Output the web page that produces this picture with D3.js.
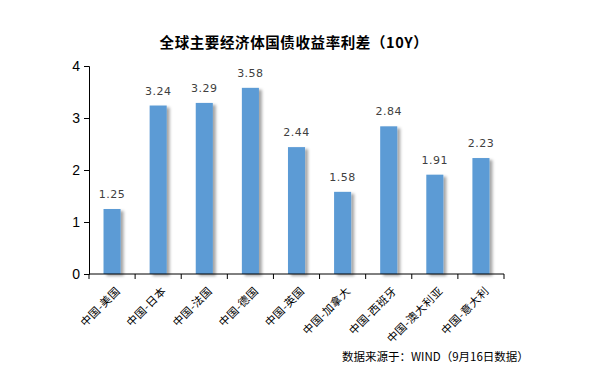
<!DOCTYPE html>
<html>
<head>
<meta charset="utf-8">
<script src="https://cdn.jsdelivr.net/npm/d3@7"></script>
<style>
  body { margin: 0; background: #fff; }
</style>
</head>
<body>
<div id="chart"></div>
<script>
// data
var categories = ["中国-美国", "中国-日本", "中国-法国", "中国-德国", "中国-英国", "中国-加拿大", "中国-西班牙", "中国-澳大利亚", "中国-意大利"];
var spreads = [1.25, 3.24, 3.29, 3.58, 2.44, 1.58, 2.84, 1.91, 2.23];
var yTicks = [0, 1, 2, 3, 4];

var W = 604, H = 382;
var margin = {top: 66, right: 100, bottom: 108, left: 89},
    width = W - margin.left - margin.right,
    height = H - margin.top - margin.bottom;

var root = d3.select("#chart").append("svg")
  .attr("width", W)
  .attr("height", H);

// shadow for bars
var defs = root.append("defs");
var f = defs.append("filter").attr("id", "shadow")
  .attr("x", "-20%").attr("y", "-10%").attr("width", "160%").attr("height", "130%");
f.append("feDropShadow")
  .attr("dx", 3).attr("dy", 2).attr("stdDeviation", 1.5)
  .attr("flood-color", "#000").attr("flood-opacity", 0.35);

// title
root.append("text")
  .attr("x", 294).attr("y", 48)
  .attr("text-anchor", "middle")
  .style("font-family", "'Noto Sans CJK SC', sans-serif")
  .style("font-weight", "bold")
  .style("font-size", "14.5px")
  .style("letter-spacing", "0.6px")
  .text("全球主要经济体国债收益率利差（10Y）");

var svg = root.append("g")
  .attr("transform", "translate(" + margin.left + "," + margin.top + ")");

var x = d3.scaleBand()
  .domain(categories)
  .range([0, width])
  .paddingInner(0.63)
  .paddingOuter(0.315);

var y = d3.scaleLinear()
  .domain([0, 4])
  .range([height, 0]);

// bars
svg.selectAll("rect.bar")
  .data(spreads)
  .enter()
  .append("rect")
  .attr("class", "bar")
  .attr("x", (d, i) => x(categories[i]))
  .attr("y", d => y(d))
  .attr("width", x.bandwidth())
  .attr("height", d => y(0) - y(d))
  .attr("fill", "#5b9bd5")
  .attr("filter", "url(#shadow)");

// value labels
svg.selectAll("text.val")
  .data(spreads)
  .enter()
  .append("text")
  .attr("class", "val")
  .attr("x", (d, i) => x(categories[i]) + x.bandwidth() / 2)
  .attr("y", d => y(d) - 11)
  .attr("text-anchor", "middle")
  .style("font-family", "'DejaVu Sans', sans-serif")
  .style("font-size", "11px")
  .style("letter-spacing", "0.5px")
  .attr("fill", "#404040")
  .text(d => d.toFixed(2));

// y axis
var yAxis = svg.append("g")
  .call(d3.axisLeft(y).tickValues(yTicks).tickSize(5).tickPadding(4).tickFormat(d3.format("d")));
yAxis.select(".domain").attr("stroke", "#000");
yAxis.selectAll("text")
  .style("font-family", "Arial, 'Liberation Sans', sans-serif")
  .style("font-size", "14px")
  .attr("fill", "#000");

// x axis: ticks at band edges
var xAxis = svg.append("g")
  .attr("transform", "translate(0," + height + ")");
xAxis.append("line")
  .attr("x1", 0).attr("x2", width)
  .attr("stroke", "#000");
var step = x.step();
xAxis.selectAll("line.tk")
  .data(d3.range(categories.length + 1))
  .enter()
  .append("line")
  .attr("class", "tk")
  .attr("x1", d => d * step).attr("x2", d => d * step)
  .attr("y1", 0).attr("y2", 5)
  .attr("stroke", "#000");

xAxis.selectAll("text.cat")
  .data(categories)
  .enter()
  .append("text")
  .attr("class", "cat")
  .attr("text-anchor", "end")
  .attr("transform", d => "translate(" + (x(d) + x.bandwidth() / 2 + 6) + ",15) rotate(-45)")
  .attr("dy", "0.35em")
  .style("font-family", "'Noto Sans CJK SC', sans-serif")
  .style("font-size", "11px")
  .style("letter-spacing", "0.5px")
  .attr("fill", "#000")
  .text(d => d);

// source note
root.append("text")
  .attr("x", 342).attr("y", 361)
  .style("font-family", "'Noto Sans CJK SC', sans-serif")
  .style("font-size", "11.5px")
  .attr("fill", "#000")
  .text("数据来源于：WIND（9月16日数据）");
</script>
</body>
</html>
